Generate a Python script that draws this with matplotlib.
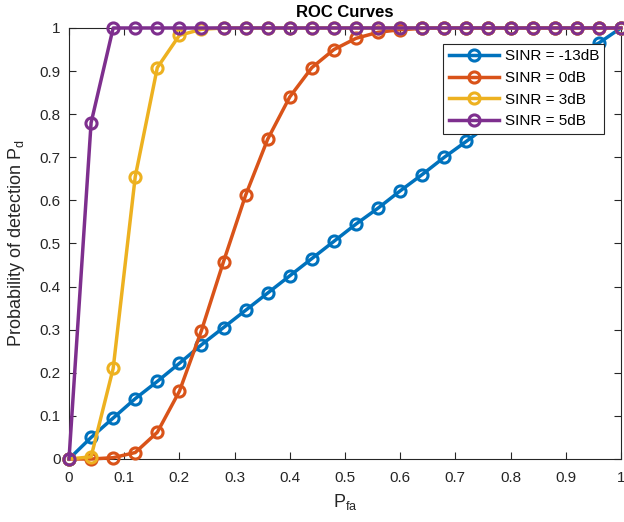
import numpy as np
import matplotlib
matplotlib.use("Agg")
import matplotlib.pyplot as plt
from matplotlib.ticker import FuncFormatter

pfa = np.linspace(0, 1, 26)

pd_m13 = [0, 0.05, 0.095, 0.14, 0.18, 0.222, 0.265, 0.305, 0.345, 0.385, 0.425,
          0.465, 0.505, 0.545, 0.582, 0.622, 0.66, 0.70, 0.737, 0.775, 0.815,
          0.858, 0.90, 0.94, 0.965, 1.0]
pd_0 = [0, 0.0, 0.003, 0.015, 0.062, 0.157, 0.298, 0.458, 0.612, 0.742, 0.84,
        0.908, 0.95, 0.976, 0.99, 0.996, 0.999, 1, 1, 1, 1, 1, 1, 1, 1, 1]
pd_3 = [0, 0.005, 0.21, 0.655, 0.908, 0.983, 0.997, 1, 1, 1, 1, 1, 1, 1, 1, 1,
        1, 1, 1, 1, 1, 1, 1, 1, 1, 1]
pd_5 = [0, 0.78, 1, 1, 1, 1, 1, 1, 1, 1, 1, 1, 1, 1, 1, 1, 1, 1, 1, 1, 1, 1,
        1, 1, 1, 1]

labels = ['SINR = -13dB', 'SINR = 0dB', 'SINR = 3dB', 'SINR = 5dB']
colors = ['#0072BD', '#D95319', '#EDB120', '#7E2F8E']

plt.rcParams['font.family'] = ['Liberation Sans', 'DejaVu Sans']
plt.rcParams['mathtext.default'] = 'regular'

fig = plt.figure(figsize=(6.24, 5.22), dpi=100)
ax = fig.add_axes([0.1106, 0.1207, 0.8844, 0.8257])

for y, lab, c in zip([pd_m13, pd_0, pd_3, pd_5], labels, colors):
    ax.plot(pfa, y, '-o', color=c, lw=2.5, ms=8, mfc='none', mew=2.2,
            label=lab, clip_on=False, zorder=3)

ax.set_xlim(0, 1)
ax.set_ylim(0, 1)
ax.set_xticks(np.arange(0, 1.01, 0.1))
ax.set_yticks(np.arange(0, 1.01, 0.1))
fmt = FuncFormatter(lambda v, p: '%g' % round(v, 2))
ax.xaxis.set_major_formatter(fmt)
ax.yaxis.set_major_formatter(fmt)
ax.tick_params(direction='in', top=True, right=True, labelsize=11,
               colors='#262626', length=5, width=0.8)
ax.tick_params(axis='x', pad=9)
ax.tick_params(axis='y', pad=6)
for s in ax.spines.values():
    s.set_color('#262626')
    s.set_linewidth(0.8)

ax.set_xlabel('$P_{fa}$', fontsize=13, color='#262626', labelpad=5)
ax.set_ylabel('Probability of detection $P_{d}$', fontsize=13, color='#262626',
              labelpad=9)
ax.set_title('ROC Curves', fontsize=12, fontweight='bold', pad=8)

leg = ax.legend(loc='upper right', bbox_to_anchor=(0.97, 0.963), fontsize=11,
                fancybox=False, framealpha=1, edgecolor='#262626',
                handlelength=3.3, borderpad=0.35, labelspacing=0.5,
                handletextpad=0.35, borderaxespad=0)
leg.get_frame().set_linewidth(0.8)

fig.savefig('out.png', dpi=100)
